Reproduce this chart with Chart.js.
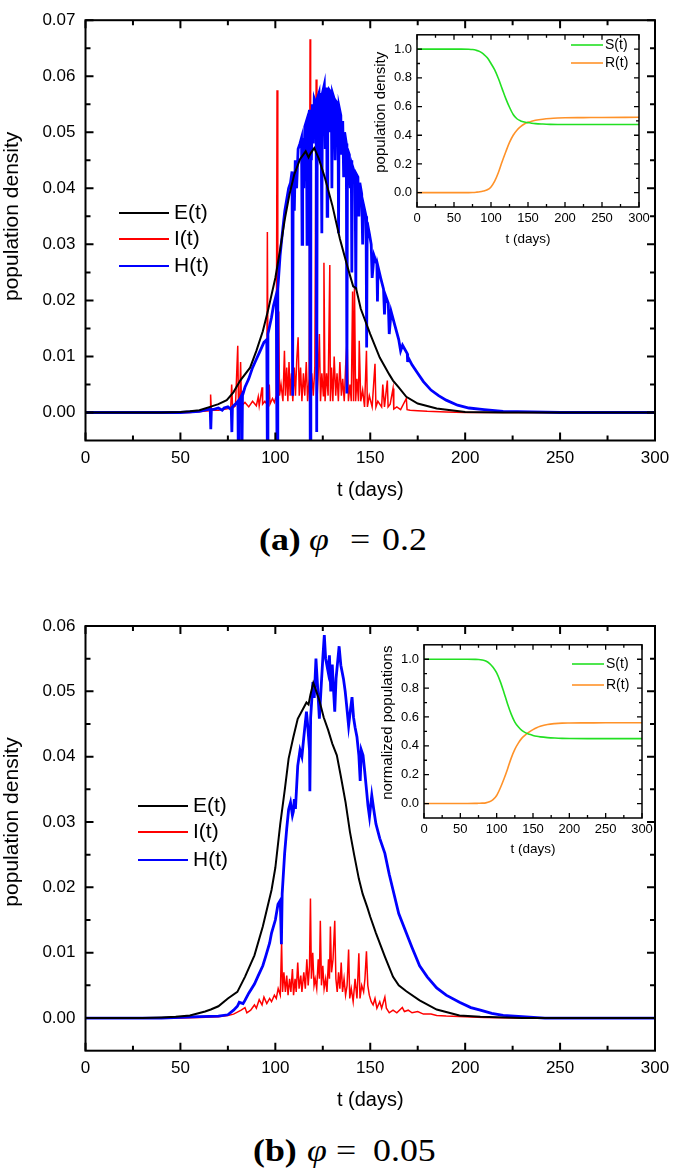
<!DOCTYPE html>
<html>
<head>
<meta charset="utf-8">
<script src="https://cdn.jsdelivr.net/npm/chart.js@4.4.1/dist/chart.umd.min.js"></script>
<style>
  body { margin: 0; background: #fff; }
  #page { position: relative; width: 685px; height: 1169px; overflow: hidden; background: #fff; }
  canvas { position: absolute; }
  .cap { position: absolute; left: 0; width: 685px; height: 40px; }
  .cap span { position: absolute; top: 0; white-space: nowrap; line-height: 36px;
              font-family: "Liberation Serif", "Times New Roman", serif; font-size: 32px;
              transform: scaleX(1.12); transform-origin: 0 0; }
</style>
</head>
<body>
<div id="page">
  <canvas id="mainA" width="685" height="520" style="left:0px;top:0px"></canvas>
  <canvas id="insetA" width="290" height="235" style="left:370px;top:22px"></canvas>
  <div class="cap" style="top:521px">
    <span style="left:259px"><b>(a)</b></span><span style="left:309px"><i>φ</i></span><span style="left:350px">=</span><span style="left:382px">0.2</span>
  </div>
  <canvas id="mainB" width="685" height="520" style="left:0px;top:600px"></canvas>
  <canvas id="insetB" width="290" height="235" style="left:375px;top:632px"></canvas>
  <div class="cap" style="top:1132px">
    <span style="left:253px"><b>(b)</b></span><span style="left:307px"><i>φ</i></span><span style="left:336px">=</span><span style="left:373px">0.05</span>
  </div>
</div>
<script>
// axis ticks
const tTicks = [0, 50, 100, 150, 200, 250, 300];
const tMinor = [25, 75, 125, 175, 225, 275];
const yTicksA = [0, 0.01, 0.02, 0.03, 0.04, 0.05, 0.06, 0.07];
const yMinorA = [0.005, 0.015, 0.025, 0.035, 0.045, 0.055, 0.065];
const yTicksB = [0, 0.01, 0.02, 0.03, 0.04, 0.05, 0.06];
const yMinorB = [0.005, 0.015, 0.025, 0.035, 0.045, 0.055];
const inTicks = [0, 0.2, 0.4, 0.6, 0.8, 1.0];
const inMinor = [0.1, 0.3, 0.5, 0.7, 0.9];

// (a) phi = 0.2
const tEa = [0, 40, 50, 55, 60, 65.6, 70, 74.4, 77.9, 81.5,
  86.7, 90, 93.4, 96, 100, 102.5, 105, 107.5, 110, 113,
  116, 117.5, 118.5, 120.5, 123, 126, 130, 134, 138, 141,
  142.5, 145, 150, 155, 160, 162, 165, 169, 175, 185,
  200, 220, 300];
const Ea = [0, 0, 0.0001, 0.0002, 0.0004, 0.001, 0.0015, 0.0022, 0.0036, 0.0057,
  0.008, 0.011, 0.0145, 0.018, 0.024, 0.029, 0.0345, 0.039, 0.0425, 0.0452,
  0.0466, 0.0455, 0.0462, 0.0472, 0.0452, 0.042, 0.037, 0.031, 0.026, 0.0225,
  0.0222, 0.0185, 0.014, 0.0098, 0.0068, 0.0057, 0.0045, 0.0028, 0.0016, 0.0007,
  0.0001, 0, 0];

const tIa = [0, 55, 62, 65.6, 65.9, 66.3, 70, 74, 76.5, 77,
  77.5, 79, 80.2, 80.6, 81.2, 81.7, 82.2, 84, 86, 88,
  90, 91, 91.5, 93, 93.3, 94.5, 95.5, 95.8, 96.2, 96.8,
  97.2, 98.5, 99.5, 100.5, 100.9, 101.3, 101.8, 102.2, 103, 104,
  104.8, 105.3, 106, 106.6, 107.2, 107.8, 108.5, 109.2, 110, 110.6,
  111.3, 112, 112.6, 113.3, 114, 114.8, 115.5, 116.3, 117, 117.8,
  118.3, 118.6, 119.2, 120, 120.8, 121.5, 121.9, 122.5, 123.2, 123.8,
  124.5, 125.3, 125.6, 126.2, 127, 127.8, 128.7, 129, 129.6, 130.3,
  131, 131.8, 132.5, 133.2, 134, 134.8, 135.5, 136.3, 137, 137.8,
  138.5, 139.3, 140, 140.7, 141.2, 141.7, 142.3, 143, 143.8, 144.2,
  145, 146, 147, 148, 148.5, 149.5, 151, 152.5, 153, 154,
  156, 156.6, 157.5, 159, 159.4, 160.5, 162, 162.4, 164, 166,
  169, 169.4, 171, 175, 180, 190, 200, 220, 300];
const Ia = [0, 0, 0.0002, 0.0003, 0.0032, 0.0004, 0.0004, 0.0006, 0.0008, 0.005,
  0.0008, 0.0012, 0.0119, 0.001, 0.0015, 0.009, 0.0012, 0.0018, 0.001, 0.002,
  0.0012, 0.0028, 0.0012, 0.0045, 0.0015, 0.002, 0.0015, 0.0322, 0.002, 0.005,
  0.0015, 0.0025, 0.0018, 0.003, 0.0575, 0.002, 0.018, 0.003, 0.005, 0.002,
  0.011, 0.003, 0.008, 0.002, 0.009, 0.003, 0.007, 0.002, 0.008, 0.003,
  0.0095, 0.0134, 0.003, 0.008, 0.002, 0.007, 0.003, 0.009, 0.002, 0.006,
  0.0666, 0.002, 0.007, 0.003, 0.008, 0.0594, 0.002, 0.006, 0.014, 0.002,
  0.007, 0.003, 0.0267, 0.002, 0.007, 0.003, 0.0263, 0.002, 0.008, 0.002,
  0.01, 0.003, 0.007, 0.002, 0.009, 0.003, 0.006, 0.002, 0.008, 0.013,
  0.002, 0.005, 0.002, 0.0216, 0.002, 0.0225, 0.002, 0.006, 0.002, 0.0128,
  0.002, 0.004, 0.001, 0.011, 0.001, 0.003, 0.001, 0.0087, 0.001, 0.002,
  0.001, 0.005, 0.001, 0.0057, 0.001, 0.0015, 0.0043, 0.0006, 0.001, 0.0005,
  0.0025, 0.0005, 0.0004, 0.0003, 0.0002, 0.0001, 0, 0, 0];

const tHa = [0, 50, 60, 64, 65.7, 66, 66.3, 68, 70, 72,
  73, 75, 76.8, 77.1, 77.4, 79, 80.3, 80.5, 80.8, 81.5,
  82.2, 82.4, 82.7, 84, 86, 88, 90, 92, 94, 95.5,
  95.8, 96.1, 98, 99, 100.5, 100.9, 101.3, 102.5, 104, 105,
  106, 107, 108, 108.8, 109.1, 109.4, 110, 110.5, 111.2, 112,
  113, 113.8, 114.1, 114.4, 115, 115.5, 116.4, 116.7, 117, 118,
  118.4, 118.7, 119, 119.5, 120, 120.5, 121.5, 121.8, 122.1, 123,
  123.5, 124, 124.5, 124.8, 125.8, 126.3, 127, 127.3, 127.6, 128.2,
  128.5, 129.5, 129.8, 130.1, 131, 131.5, 132, 133, 133.3, 133.6,
  134.5, 134.8, 135.5, 136, 136.5, 137.4, 137.7, 138, 139, 139.5,
  140, 140.3, 140.6, 141.5, 142, 142.4, 142.7, 143.5, 144, 144.5,
  145.5, 146, 146.5, 147.8, 148.1, 148.4, 149.5, 150.5, 151, 152,
  153.5, 153.8, 154.1, 155.5, 157, 157.5, 157.9, 159.5, 160, 161,
  163, 165, 166, 167, 169.5, 169.7, 170, 172, 175, 178,
  182, 186, 190, 196, 202, 210, 220, 235, 250, 300];
const Ha = [0, 0, 0.0002, 0.0005, 0.0006, -0.003, 0.0005, 0.0006, 0.0008, 0.0004,
  0.0008, 0.001, 0.0005, -0.0035, 0.001, 0.0015, 0.002, -0.008, 0.002, 0.0025,
  0.003, -0.008, 0.003, 0.0045, 0.006, 0.008, 0.0095, 0.011, 0.0125, 0.013,
  -0.008, 0.014, 0.017, 0.019, 0.021, -0.008, 0.022, 0.028, 0.033, 0.036,
  0.038, 0.04, 0.041, 0.043, 0.003, 0.043, 0.036, 0.045, 0.04, 0.047,
  0.048, 0.049, 0.03, 0.049, 0.04, 0.051, 0.052, 0.03, 0.052, 0.054,
  -0.008, 0.054, 0.045, 0.055, 0.048, 0.056, 0.055, -0.0035, 0.056, 0.057,
  0.045, 0.057, 0.032, 0.057, 0.0585, 0.047, 0.058, 0.035, 0.058, 0.05,
  0.0575, 0.057, 0.04, 0.057, 0.056, 0.045, 0.0555, 0.055, 0.032, 0.0545,
  0.053, 0.046, 0.052, 0.042, 0.05, 0.048, 0.0034, 0.047, 0.046, 0.04,
  0.045, 0.025, 0.044, 0.043, 0.0425, 0.022, 0.0425, 0.042, 0.035, 0.041,
  0.039, 0.03, 0.037, 0.035, 0.0116, 0.034, 0.032, 0.03, 0.024, 0.028,
  0.0265, 0.0198, 0.026, 0.024, 0.022, 0.0175, 0.021, 0.0195, 0.014, 0.018,
  0.0155, 0.013, 0.011, 0.012, 0.0105, 0.009, 0.0098, 0.0085, 0.007, 0.0055,
  0.004, 0.003, 0.0022, 0.0013, 0.0008, 0.0005, 0.0002, 0.0001, 0, 0];

// (b) phi = 0.05
const tEb = [0, 30, 40, 47.5, 55, 59, 63, 66, 70, 75,
  80, 84, 89, 93.4, 98, 100, 102.6, 105, 107, 109.5,
  111.8, 114, 116.4, 117.5, 118.5, 120, 121, 123.2, 125.5, 127.8,
  130, 132.4, 134.5, 137, 139.3, 141.5, 144, 146, 148.5, 150,
  153, 157.7, 162, 165, 169, 176, 185, 197, 208, 230,
  300];
const Eb = [0, 0, 0.0001, 0.0002, 0.0004, 0.0007, 0.001, 0.0013, 0.0018, 0.003,
  0.004, 0.0063, 0.0096, 0.014, 0.0196, 0.023, 0.0297, 0.035, 0.0397, 0.043,
  0.0458, 0.047, 0.0483, 0.048, 0.0495, 0.0513, 0.0505, 0.0486, 0.046, 0.0441,
  0.042, 0.0402, 0.037, 0.033, 0.0285, 0.025, 0.0213, 0.019, 0.0169, 0.0155,
  0.013, 0.0094, 0.0063, 0.005, 0.0041, 0.0027, 0.0013, 0.0004, 0.0002, 0,
  0];

const tIb = [0, 50, 60, 70, 75, 78, 80, 82, 84, 85,
  87, 89, 90, 91.5, 93, 94, 95.5, 97, 98, 99.5,
  100.5, 101.5, 102.6, 103.3, 103.8, 104.5, 105.3, 106, 106.7, 107.5,
  108.2, 109, 109.6, 110.4, 111, 111.8, 112.5, 113.4, 114, 115,
  115.8, 116.6, 117.3, 118, 118.5, 119, 119.7, 120.4, 121, 121.8,
  122.6, 123.2, 123.7, 124.3, 125, 125.7, 126.5, 127.2, 128, 128.5,
  129, 129.6, 130.4, 131.3, 131.9, 132.6, 133.3, 134, 134.7, 135.4,
  136.2, 137, 137.8, 138.6, 139.2, 140, 141, 142, 143, 144,
  144.6, 145.5, 146.5, 147.2, 148, 148.7, 149.5, 150.5, 151.5, 152.5,
  153.5, 155, 156, 157.7, 158.5, 160, 162, 164, 166.9, 168,
  170, 172, 175, 178, 182, 185, 190, 200, 210, 230,
  300];
const Ib = [0, 0, 0.0001, 0.0002, 0.0004, 0.0006, 0.0009, 0.0012, 0.0016, 0.0008,
  0.0012, 0.002, 0.0015, 0.0028, 0.002, 0.0032, 0.0022, 0.003, 0.0025, 0.0035,
  0.003, 0.0045, 0.0035, 0.0116, 0.004, 0.007, 0.004, 0.0065, 0.0035, 0.006,
  0.004, 0.0075, 0.0035, 0.006, 0.004, 0.0085, 0.0045, 0.0065, 0.004, 0.007,
  0.0045, 0.009, 0.005, 0.008, 0.0183, 0.006, 0.01, 0.005, 0.006, 0.0045,
  0.009, 0.006, 0.0149, 0.005, 0.008, 0.0045, 0.006, 0.004, 0.009, 0.006,
  0.014, 0.007, 0.009, 0.0149, 0.006, 0.004, 0.007, 0.0045, 0.0085, 0.004,
  0.006, 0.0035, 0.005, 0.0105, 0.003, 0.0045, 0.0025, 0.006, 0.003, 0.0099,
  0.003, 0.005, 0.004, 0.006, 0.0102, 0.005, 0.0035, 0.0025, 0.002, 0.003,
  0.0015, 0.0025, 0.0015, 0.0032, 0.0015, 0.0008, 0.0012, 0.0008, 0.0016, 0.001,
  0.0012, 0.0008, 0.001, 0.0006, 0.0006, 0.0004, 0.0003, 0.0002, 0.0001, 0,
  0];

const tHb = [0, 40, 50, 60, 70, 75, 78, 80, 81, 83,
  84, 86, 89, 91, 93.4, 95, 97, 98, 100, 101.4,
  102.6, 103.2, 103.6, 104.9, 106, 107, 108, 109, 109.5, 110,
  110.6, 111.8, 113, 114, 115, 116.4, 117, 118, 118.2, 118.6,
  119.8, 120.5, 121.4, 122.2, 123.2, 124, 125, 125.8, 126.5, 127.8,
  128.5, 129.2, 130, 130.5, 131.3, 132, 133.6, 134.5, 135.9, 136.8,
  137.5, 138.6, 139.5, 140.4, 141.2, 142, 143, 144, 144.7, 145.3,
  146.2, 147, 148, 148.8, 149.6, 150.8, 151.8, 153, 155, 157.7,
  160, 162, 165, 169, 172, 176, 180, 185, 190, 197,
  203, 208, 214, 220, 230, 242, 300];
const Hb = [0, 0, 0.0001, 0.0002, 0.0003, 0.0005, 0.0012, 0.0018, 0.0024, 0.0022,
  0.0027, 0.0038, 0.0052, 0.0065, 0.008, 0.0095, 0.0115, 0.013, 0.015, 0.0174,
  0.018, 0.0113, 0.019, 0.0252, 0.029, 0.0319, 0.033, 0.031, 0.0316, 0.0335,
  0.032, 0.0386, 0.041, 0.04, 0.043, 0.0469, 0.045, 0.041, 0.0347, 0.046,
  0.0514, 0.049, 0.055, 0.051, 0.0458, 0.05, 0.055, 0.0586, 0.055, 0.053,
  0.0555, 0.05, 0.0541, 0.051, 0.0469, 0.052, 0.0569, 0.054, 0.0519, 0.05,
  0.048, 0.0447, 0.047, 0.0491, 0.046, 0.0445, 0.043, 0.0402, 0.0363, 0.041,
  0.0402, 0.038, 0.035, 0.0325, 0.0308, 0.0341, 0.032, 0.0297, 0.0275, 0.0252,
  0.022, 0.0196, 0.016, 0.013, 0.0108, 0.008, 0.0063, 0.0046, 0.0035, 0.0024,
  0.0016, 0.0012, 0.0007, 0.0004, 0.0002, 0, 0];

// insets: S(t), R(t)
const tSR = [0, 60, 70, 75, 80, 85, 90, 95, 100, 105, 110, 115, 120, 125,
  130, 135, 140, 145, 150, 155, 160, 170, 180, 190, 200, 225, 250, 300];
const Sa = [1, 1, 0.999, 0.997, 0.992, 0.983, 0.965, 0.94, 0.9, 0.855, 0.795, 0.725, 0.655, 0.595,
  0.545, 0.515, 0.5, 0.492, 0.488, 0.484, 0.481, 0.478, 0.476, 0.475, 0.475, 0.475, 0.475, 0.475];
const Ra = [0, 0, 0, 0.001, 0.003, 0.006, 0.012, 0.02, 0.04, 0.08, 0.14, 0.215, 0.285, 0.35,
  0.4, 0.435, 0.46, 0.478, 0.49, 0.498, 0.504, 0.512, 0.517, 0.52, 0.522, 0.523, 0.524, 0.525];
const Sb = [1, 1, 0.999, 0.998, 0.995, 0.988, 0.972, 0.945, 0.905, 0.845, 0.77, 0.69, 0.62, 0.565,
  0.53, 0.505, 0.49, 0.48, 0.472, 0.466, 0.462, 0.457, 0.454, 0.452, 0.451, 0.45, 0.45, 0.45];
const Rb = [0, 0, 0.001, 0.002, 0.003, 0.005, 0.012, 0.028, 0.056, 0.108, 0.17, 0.24, 0.315, 0.375,
  0.42, 0.455, 0.478, 0.497, 0.512, 0.525, 0.535, 0.548, 0.554, 0.557, 0.558, 0.559, 0.56, 0.56];

Chart.defaults.font.family = "'Liberation Sans', Arial, sans-serif";
Chart.defaults.color = '#000';

function pts(ts, vs) {
  return ts.map(function (t, i) { return { x: t, y: vs[i] }; });
}

// white plot area, box frame and inward ticks on all four sides
const frameTicks = {
  id: 'frameTicks',
  beforeDraw(chart) {
    const a = chart.chartArea, c = chart.ctx;
    c.save();
    c.fillStyle = '#fff';
    c.fillRect(a.left, a.top, a.right - a.left, a.bottom - a.top);
    c.restore();
  },
  afterDraw(chart, args, o) {
    const c = chart.ctx, a = chart.chartArea, x = chart.scales.x, y = chart.scales.y;
    c.save();
    c.strokeStyle = '#000';
    c.lineWidth = o.lw;
    c.beginPath();
    function xt(list, len) {
      list.forEach(function (v) {
        const p = x.getPixelForValue(v);
        c.moveTo(p, a.bottom); c.lineTo(p, a.bottom - len);
        c.moveTo(p, a.top); c.lineTo(p, a.top + len);
      });
    }
    function yt(list, len) {
      list.forEach(function (v) {
        const p = y.getPixelForValue(v);
        c.moveTo(a.left, p); c.lineTo(a.left + len, p);
        c.moveTo(a.right, p); c.lineTo(a.right - len, p);
      });
    }
    xt(o.xMajor, o.major); xt(o.xMinor, o.minor);
    yt(o.yMajor, o.major); yt(o.yMinor, o.minor);
    c.stroke();
    c.lineWidth = o.frame;
    c.strokeRect(a.left, a.top, a.right - a.left, a.bottom - a.top);
    c.restore();
  }
};

// rotated y title, centred on a chosen value like Origin does
const yTitle = {
  id: 'yTitle',
  afterDraw(chart, args, o) {
    const c = chart.ctx, y = chart.scales.y;
    c.save();
    c.translate(o.x, y.getPixelForValue(o.at));
    c.rotate(-Math.PI / 2);
    c.font = o.font;
    c.textAlign = 'center';
    c.textBaseline = 'middle';
    c.fillStyle = '#000';
    c.fillText(o.text, 0, 0);
    c.restore();
  }
};

// Origin style legend: short line sample then label
const lineLegend = {
  id: 'lineLegend',
  afterDraw(chart, args, o) {
    const c = chart.ctx;
    c.save();
    c.font = o.font;
    c.textBaseline = 'middle';
    c.fillStyle = '#000';
    chart.data.datasets.forEach(function (ds, k) {
      const yy = o.y[k];
      c.strokeStyle = ds.borderColor;
      c.lineWidth = o.lw;
      c.beginPath();
      c.moveTo(o.x, yy); c.lineTo(o.x + o.len, yy);
      c.stroke();
      c.fillText(ds.label, o.x + o.len + o.gap, yy);
    });
    c.restore();
  }
};

function mainChart(id, p) {
  return new Chart(document.getElementById(id), {
    type: 'line',
    data: {
      datasets: [
        { label: 'E(t)', data: pts(p.tE, p.E), borderColor: '#000000', borderWidth: 2, order: 0 },
        { label: 'I(t)', data: pts(p.tI, p.I), borderColor: '#ff0000', borderWidth: 1.5, order: 2 },
        { label: 'H(t)', data: pts(p.tH, p.H), borderColor: '#0000ff', borderWidth: 2.8, order: 1 }
      ]
    },
    options: {
      responsive: false,
      animation: false,
      devicePixelRatio: 1,
      elements: { point: { radius: 0 }, line: { tension: 0 } },
      layout: { padding: { left: 0, right: 30, top: p.top, bottom: p.bottom } },
      scales: {
        x: {
          type: 'linear', min: 0, max: 300,
          grid: { display: false, drawTicks: false }, border: { display: false },
          afterBuildTicks: function (s) { s.ticks = tTicks.map(function (v) { return { value: v }; }); },
          afterFit: function (s) { s.height = 62; },
          ticks: { font: { size: 17 }, padding: 7.5, maxRotation: 0, callback: function (v) { return String(v); } },
          title: { display: true, text: 't (days)', font: { size: 20 }, padding: { top: 0, bottom: 0 } }
        },
        y: {
          min: p.yMin, max: p.yMax,
          grid: { display: false, drawTicks: false }, border: { display: false },
          afterBuildTicks: function (s) { s.ticks = p.yTicks.map(function (v) { return { value: v }; }); },
          afterFit: function (s) { s.width = 85.5; },
          ticks: { font: { size: 17 }, padding: 10, callback: function (v) { return v.toFixed(2); } }
        }
      },
      plugins: {
        legend: { display: false },
        tooltip: { enabled: false },
        frameTicks: { lw: 2, frame: 2, major: 8, minor: 5, xMajor: tTicks, xMinor: tMinor, yMajor: p.yTicks, yMinor: p.yMinor },
        yTitle: { text: 'population density', x: 12, at: p.yMax / 2, font: "21px 'Liberation Sans', Arial, sans-serif" },
        lineLegend: { x: p.legX, y: p.legY, len: 50, gap: 5, lw: 2.2, font: "21px 'Liberation Sans', Arial, sans-serif" }
      }
    },
    plugins: [frameTicks, yTitle, lineLegend]
  });
}

function insetChart(id, p) {
  return new Chart(document.getElementById(id), {
    type: 'line',
    data: {
      datasets: [
        { label: 'S(t)', data: pts(tSR, p.S), borderColor: '#22e022', borderWidth: 1.6 },
        { label: 'R(t)', data: pts(tSR, p.R), borderColor: '#ff9229', borderWidth: 1.6 }
      ]
    },
    options: {
      responsive: false,
      animation: false,
      devicePixelRatio: 1,
      elements: { point: { radius: 0 }, line: { cubicInterpolationMode: 'monotone' } },
      layout: { padding: { left: 0, right: p.right, top: p.top, bottom: 9.2 } },
      scales: {
        x: {
          type: 'linear', min: 0, max: 300,
          grid: { display: false, drawTicks: false }, border: { display: false },
          afterBuildTicks: function (s) { s.ticks = tTicks.map(function (v) { return { value: v }; }); },
          afterFit: function (s) { s.height = p.xh; },
          ticks: { font: { size: 13 }, padding: 4, maxRotation: 0, callback: function (v) { return String(v); } },
          title: { display: true, text: 't (days)', font: { size: 13.5 }, padding: { top: 0, bottom: 0 } }
        },
        y: {
          min: -0.1, max: 1.1,
          grid: { display: false, drawTicks: false }, border: { display: false },
          afterBuildTicks: function (s) { s.ticks = inTicks.map(function (v) { return { value: v }; }); },
          afterFit: function (s) { s.width = p.yw; },
          ticks: { font: { size: 13 }, padding: 5, callback: function (v) { return v.toFixed(1); } }
        }
      },
      plugins: {
        legend: { display: false },
        tooltip: { enabled: false },
        frameTicks: { lw: 1.3, frame: 1.5, major: 5, minor: 3, xMajor: tTicks, xMinor: tMinor, yMajor: inTicks, yMinor: inMinor },
        yTitle: { text: p.ytitle, x: p.tx, at: 0.56, font: "15px 'Liberation Sans', Arial, sans-serif" },
        lineLegend: { x: p.legX, y: p.legY, len: 32, gap: 2, lw: 1.6, font: "14px 'Liberation Sans', Arial, sans-serif" }
      }
    },
    plugins: [frameTicks, yTitle, lineLegend]
  });
}

mainChart('mainA', {
  tE: tEa, E: Ea, tI: tIa, I: Ia, tH: tHa, H: Ha,
  yMin: -0.005, yMax: 0.07, yTicks: yTicksA, yMinor: yMinorA,
  top: 16, bottom: 17.5, legX: 119, legY: [213, 239, 266]
});

mainChart('mainB', {
  tE: tEb, E: Eb, tI: tIb, I: Ib, tH: tHb, H: Hb,
  yMin: -0.005, yMax: 0.06, yTicks: yTicksB, yMinor: yMinorB,
  top: 26, bottom: 7.3, legX: 138, legY: [206, 232, 260]
});

insetChart('insetA', {
  S: Sa, R: Ra, ytitle: 'population density',
  top: 9, right: 21, xh: 40.8, yw: 47, tx: 11,
  legX: 201, legY: [23, 41]
});

insetChart('insetB', {
  S: Sb, R: Rb, ytitle: 'normalized populations',
  top: 10, right: 23, xh: 39.8, yw: 49, tx: 13,
  legX: 197, legY: [32, 53]
});
</script>
</body>
</html>
